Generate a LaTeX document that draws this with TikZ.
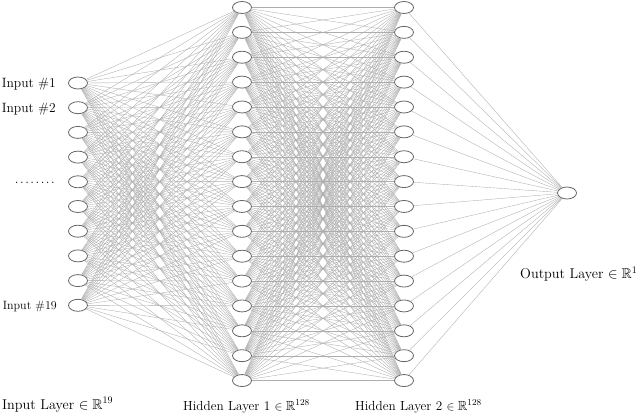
\documentclass[tikz,border=0pt]{standalone}
\usepackage{amssymb}
\usetikzlibrary{shapes.geometric}
\begin{document}
\begin{tikzpicture}[x=1pt,y=-1pt,
  neuron/.style={ellipse,draw=black!60,line width=0.8pt,fill=white,minimum width=19pt,minimum height=12pt,inner sep=0pt},
  edge/.style={draw=black!32,line width=0.35pt},
  smalllab/.style={anchor=east,inner sep=0pt,font=\fontsize{13.5}{15}\selectfont},
  tinylab/.style={anchor=east,inner sep=0pt,font=\fontsize{12}{14}\selectfont},
  layerlab/.style={anchor=base west,inner sep=0pt,font=\fontsize{13.2}{15}\selectfont},
  biglab/.style={anchor=base west,inner sep=0pt,font=\fontsize{14.2}{17}\selectfont}]
\useasboundingbox (0,0) rectangle (640,414);
% nodes
\foreach \i in {1,...,10} {
  \node[neuron] (I-\i) at (78,{83+24.7*(\i-1)}) {};
}
\foreach \j in {1,...,16} {
  \node[neuron] (H-\j) at (242,{7.5+24.87*(\j-1)}) {};
  \node[neuron] (G-\j) at (404,{7.5+24.87*(\j-1)}) {};
}
\node[neuron] (O) at (567,193) {};
% edges
\foreach \i in {1,...,10} {
  \foreach \j in {1,...,16} {
    \draw[edge] (I-\i) -- (H-\j);
  }
}
\foreach \i in {1,...,16} {
  \foreach \j in {1,...,16} {
    \draw[edge] (H-\i) -- (G-\j);
  }
  \draw[edge] (G-\i) -- (O);
}
% input labels
\node[smalllab] (l1) at (56,84) {Input \#1};
\node[smalllab] (l2) at (56,108.7) {Input \#2};
\node[smalllab,anchor=base east] (ld) at (55,184) {.\kern1.5pt.\kern1.5pt.\kern1.5pt.\kern1.5pt.\kern1.5pt.\kern1.5pt.\kern1.5pt.};
\node[tinylab] (l19) at (57,306) {Input \#19};
% layer labels
\node[biglab] (li) at (2,409) {Input Layer $\in \mathbb{R}^{19}$};
\node[layerlab] (lh1) at (183,410) {Hidden Layer 1\ $\in \mathbb{R}^{128}$};
\node[layerlab] (lh2) at (355,410) {Hidden Layer 2\ $\in \mathbb{R}^{128}$};
\node[biglab] (lo) at (520,279) {Output Layer $\in \mathbb{R}^{1}$};
\end{tikzpicture}
\end{document}
